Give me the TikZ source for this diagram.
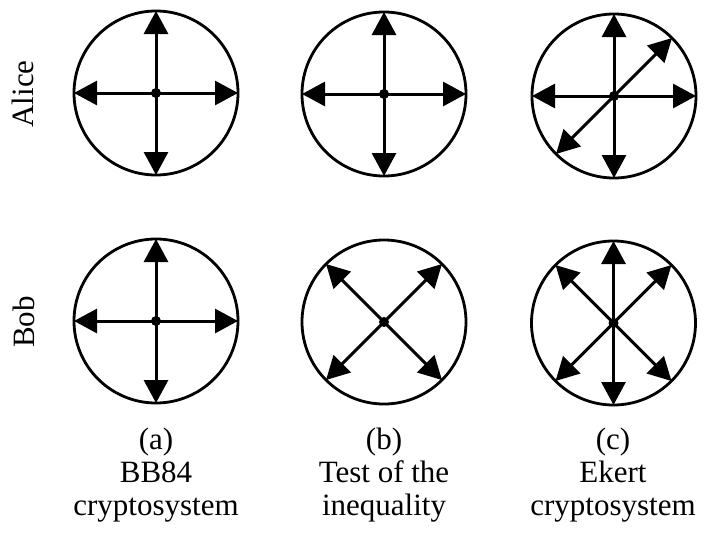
\documentclass[tikz,border=0pt]{standalone}
\usepackage{fontspec}
\setmainfont{Liberation Serif}
\usetikzlibrary{arrows.meta}
\begin{document}
\begin{tikzpicture}[x=1pt,y=-1pt,
  disc/.style={circle,draw,line width=2.8pt,minimum size=164pt,inner sep=0pt,outer sep=0pt},
  hub/.style={circle,fill,inner sep=0pt,minimum size=10pt},
  arr/.style={line width=3pt,{Triangle[length=23pt,width=24pt]}-{Triangle[length=23pt,width=24pt]}},
  lab/.style={font=\fontsize{31}{33}\selectfont,inner sep=0pt,align=center},
  side/.style={font=\fontsize{31}{33}\selectfont,inner sep=0pt,rotate=90}]
\useasboundingbox (0,0) rectangle (715,541);
% circles
\node[disc] (a1) at (156,93) {};
\node[disc] (b1) at (384,94) {};
\node[disc] (c1) at (614,96) {};
\node[disc] (a2) at (156,321) {};
\node[disc] (b2) at (384,322) {};
\node[disc] (c2) at (613.5,323) {};
% (a) top and bottom
\draw[arr] (a1.180) -- (a1.0);
\draw[arr] (a1.270) -- (a1.90);
\draw[arr] (a2.180) -- (a2.0);
\draw[arr] (a2.270) -- (a2.90);
% (b)
\draw[arr] (b1.180) -- (b1.0);
\draw[arr] (b1.270) -- (b1.90);
\draw[arr] (b2.225) -- (b2.45);
\draw[arr] (b2.315) -- (b2.135);
% (c)
\draw[arr] (c1.180) -- (c1.0);
\draw[arr] (c1.270) -- (c1.90);
\draw[arr] (c1.225) -- (c1.45);
\draw[arr] (c2.270) -- (c2.90);
\draw[arr] (c2.225) -- (c2.45);
\draw[arr] (c2.315) -- (c2.135);
% hubs
\node[hub] (ha1) at (a1.center) {};
\node[hub] (hb1) at (b1.center) {};
\node[hub] (hc1) at (c1.center) {};
\node[hub] (ha2) at (a2.center) {};
\node[hub] (hb2) at (b2.center) {};
\node[hub] (hc2) at (c2.center) {};
% side labels
\node[side] (alice) at (22.5,94) {Alice};
\node[side] (bob) at (24,322) {Bob};
% captions
\node[lab] (ta) at (156,475) {(a)\\BB84\\cryptosystem};
\node[lab] (tb) at (384,475) {(b)\\Test of the\\inequality};
\node[lab] (tc) at (613,475) {(c)\\Ekert\\cryptosystem};
\end{tikzpicture}
\end{document}
